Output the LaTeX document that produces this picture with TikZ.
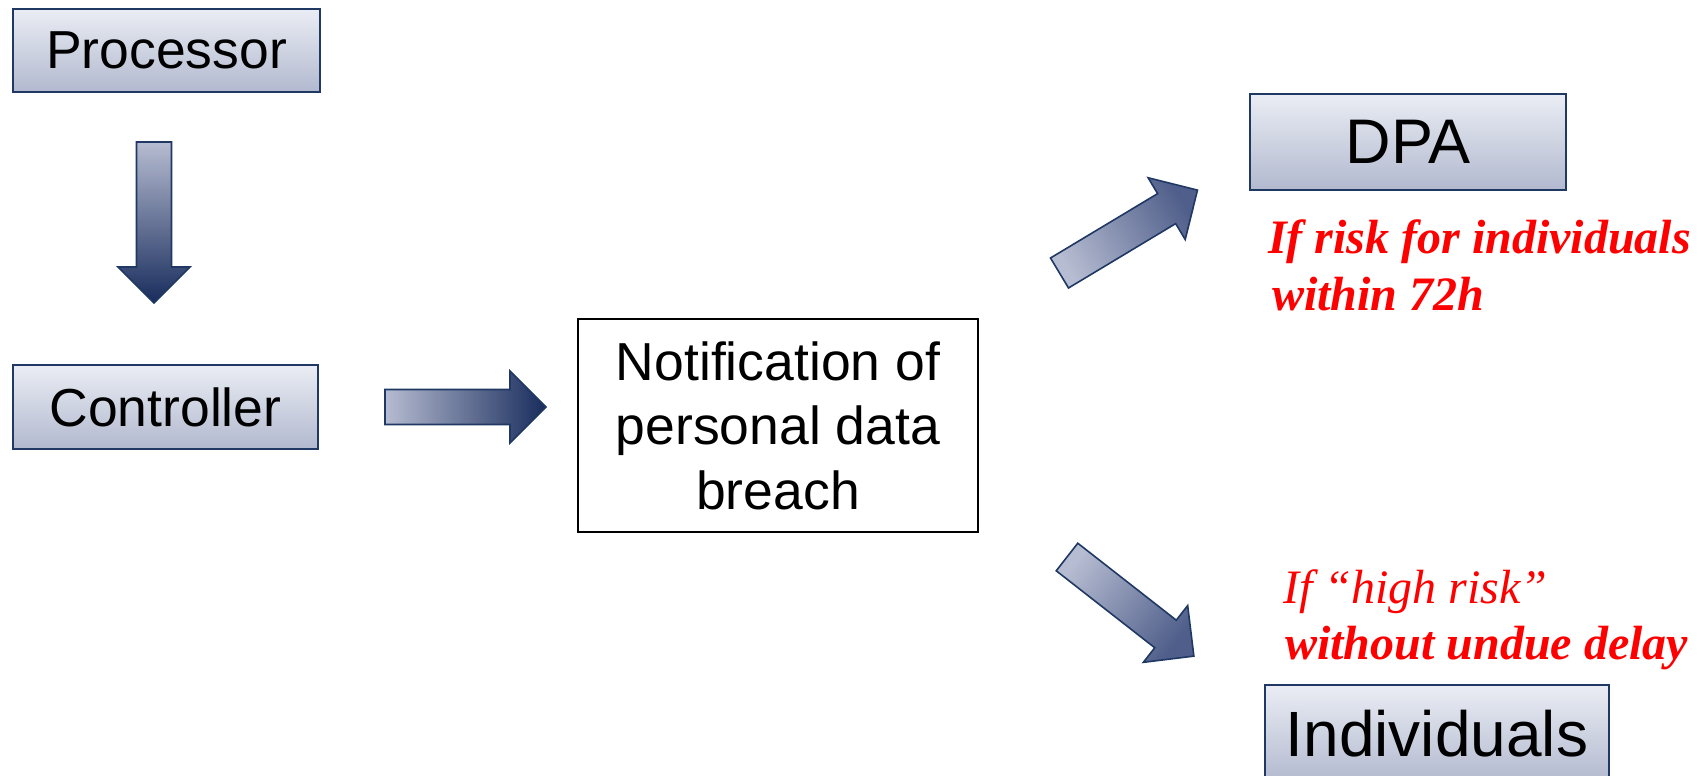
\documentclass[tikz,border=0pt]{standalone}
\usepackage{fontspec}
\setmainfont{Liberation Sans}
\newfontfamily\timesf{Liberation Serif}
\definecolor{boxtop}{HTML}{EAEDF4}
\definecolor{boxbot}{HTML}{B2B9CF}
\definecolor{boxline}{HTML}{1F3864}
\definecolor{arrlight}{HTML}{B6BCD1}
\definecolor{arrmid}{HTML}{8E97B3}
\definecolor{arrdark}{HTML}{182C5C}
\definecolor{diagdark}{HTML}{4F5E8A}
\begin{document}
\begin{tikzpicture}[x=1pt,y=-1pt,
  box/.style={draw=boxline, line width=2pt, top color=boxtop, bottom color=boxbot, inner sep=0pt, align=center},
  plainbox/.style={draw=black, line width=2pt, fill=white, inner sep=0pt, align=center},
  arrowshape/.style={draw=boxline, line width=1.6pt, line join=miter},
  redb/.style={text=red, font=\timesf\bfseries\itshape\fontsize{48}{56}\selectfont, anchor=base west, inner sep=0pt},
  redi/.style={text=red, font=\timesf\itshape\fontsize{48}{56}\selectfont, anchor=base west, inner sep=0pt},
  blockarrow/.pic={\path[pic actions] (0,-17.5) -- (125,-17.5) -- (125,-36) -- (161,0) -- (125,36) -- (125,17.5) -- (0,17.5) -- cycle;}
]
\useasboundingbox (0,0) rectangle (1705,776);
\clip (0,0) rectangle (1705,776);

% boxes
\node[box, minimum width=307pt, minimum height=83pt, font=\fontsize{53.5}{60}\selectfont] (proc) at (166.5,50.5) {Processor};
\node[box, minimum width=305pt, minimum height=84pt, font=\fontsize{53.5}{60}\selectfont] (ctrl) at (165.5,407) {Controller};
\node[plainbox, minimum width=400pt, minimum height=213pt, font=\fontsize{53.5}{64.5}\selectfont] (notif) at (778,425.5) {Notification of\\personal data\\breach};
\node[box, minimum width=316pt, minimum height=96pt, font=\fontsize{63}{70}\selectfont] (dpa) at (1408,142) {DPA};
\node[box, minimum width=344pt, minimum height=98pt, font=\fontsize{64}{72}\selectfont] (indiv) at (1437,734) {Individuals};

% block arrows
\coordinate (a1) at (154,142);
\coordinate (a2) at (385,407);
\coordinate (a3) at (1059.5,273);
\coordinate (a4) at (1067,557);
\pic[arrowshape, top color=arrlight, middle color=arrmid, bottom color=arrdark, shading angle=0, rotate=-90] at (a1) {blockarrow};
\pic[arrowshape, top color=arrlight, middle color=arrmid, bottom color=arrdark, shading angle=90] at (a2) {blockarrow};
\pic[arrowshape, top color=arrlight, bottom color=diagdark, shading angle=121, rotate=31] at (a3) {blockarrow};
\pic[arrowshape, top color=arrlight, bottom color=diagdark, shading angle=52, rotate=-38] at (a4) {blockarrow};

% red notes
\node[redb] (dpanote1) at (1268,253) {If risk for individuals};
\node[redb] (dpanote2) at (1272,310) {within 72h};
\node[redi] (indnote1) at (1283,603) {If “high risk”};
\node[redb] (indnote2) at (1285,659) {without undue delay};
\end{tikzpicture}
\end{document}
